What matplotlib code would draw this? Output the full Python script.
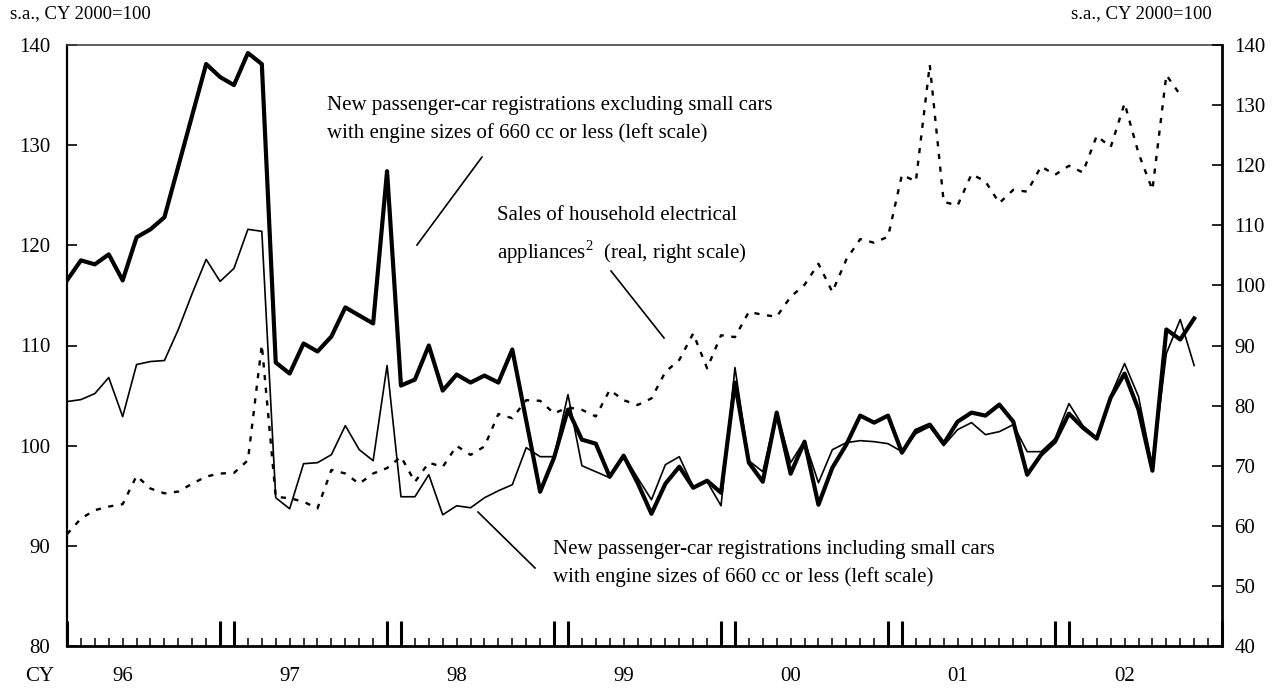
import numpy as np
import matplotlib
matplotlib.use('Agg')
import matplotlib.pyplot as plt

plt.rcParams['font.family'] = ['Liberation Serif', 'DejaVu Serif']
plt.rcParams['mathtext.fontset'] = 'custom'
plt.rcParams['mathtext.rm'] = 'Liberation Serif'

# monthly values, Jan 1996 onwards
excl_small = [116.5, 118.5, 118.1, 119.1, 116.5, 120.8, 121.6, 122.8, 127.9, 133.0,
              138.1, 136.8, 136.0, 139.2, 138.1, 108.3, 107.2, 110.2, 109.4, 110.9,
              113.8, 113.0, 112.2, 127.4, 106.0, 106.6, 110.0, 105.5, 107.1, 106.3,
              107.0, 106.3, 109.6, 102.5, 95.4, 98.8, 103.6, 100.6, 100.2, 96.9,
              99.0, 96.3, 93.2, 96.2, 97.9, 95.8, 96.5, 95.3, 106.3, 98.3,
              96.4, 103.3, 97.2, 100.4, 94.1, 97.8, 100.1, 103.0, 102.3, 103.0,
              99.3, 101.5, 102.1, 100.2, 102.4, 103.3, 103.0, 104.1, 102.4, 97.1,
              99.1, 100.4, 103.2, 101.8, 100.7, 104.8, 107.2, 103.6, 97.5, 111.6,
              110.6, 112.7]
incl_small = [104.4, 104.6, 105.2, 106.8, 102.9, 108.1, 108.4, 108.5, 111.6, 115.2,
              118.6, 116.4, 117.7, 121.6, 121.4, 94.8, 93.7, 98.2, 98.3, 99.1,
              102.0, 99.6, 98.5, 108.0, 94.9, 94.9, 97.1, 93.1, 94.0, 93.8,
              94.8, 95.5, 96.1, 99.8, 98.9, 98.9, 105.1, 98.0, 97.4, 96.8,
              99.1, 96.8, 94.6, 98.1, 98.9, 95.9, 96.4, 94.0, 107.8, 98.5,
              97.4, 103.4, 98.3, 100.5, 96.3, 99.6, 100.3, 100.5, 100.4, 100.2,
              99.4, 101.2, 101.9, 100.0, 101.6, 102.3, 101.1, 101.4, 102.1, 99.4,
              99.4, 100.7, 104.2, 102.0, 100.8, 105.0, 108.2, 104.9, 97.9, 109.2,
              112.6, 108.0]
appliances = [58.6, 61.2, 62.6, 63.2, 63.6, 68.3, 66.2, 65.4, 65.7, 67.0,
              68.2, 68.7, 68.8, 70.9, 90.1, 64.8, 64.6, 64.0, 62.9, 69.3,
              68.7, 67.0, 68.7, 69.6, 71.5, 67.3, 70.5, 69.8, 73.3, 71.8,
              73.2, 78.6, 77.9, 80.9, 80.8, 78.7, 79.7, 79.3, 78.2, 82.6,
              80.9, 80.1, 81.2, 85.6, 87.6, 92.0, 86.2, 91.7, 91.4, 95.6,
              95.1, 94.8, 98.1, 100.1, 103.6, 98.9, 104.3, 107.7, 107.1, 108.1,
              118.4, 117.3, 136.7, 113.9, 113.3, 118.5, 117.3, 113.7, 115.9, 115.6,
              119.8, 118.4, 119.9, 118.8, 124.9, 123.0, 130.3, 122.0, 115.9, 135.0,
              131.7]

year_labels = ['96', '97', '98', '99', '00', '01', '02']
year_label_pos = [4, 16, 28, 40, 52, 64, 76]
n_months = 83

fig = plt.figure(figsize=(12.8, 6.89), dpi=100)
ax = fig.add_axes([67/1280, 1 - 646/689, 1155/1280, 601/689])
ax2 = ax.twinx()

ax.plot(np.arange(len(incl_small)), incl_small, color='black', lw=1.2)
ax.plot(np.arange(len(excl_small)), excl_small, color='black', lw=3.0)
ax2.plot(np.arange(len(appliances)), appliances, color='black', lw=1.7,
         linestyle=(0, (2.2, 3.2)))

ax.set_xlim(0, n_months)
ax.set_ylim(80, 140)
ax2.set_ylim(40, 140)
ax.set_yticks(range(80, 141, 10))
ax2.set_yticks(range(40, 141, 10))

# month ticks, double tall ticks around each year end
tall = [0, n_months] + [12 * k - 1 for k in range(1, 7)] + [12 * k for k in range(1, 7)]
ax.set_xticks(sorted(tall))
ax.set_xticks(range(0, n_months + 1), minor=True)
ax.tick_params(axis='x', which='major', direction='in', length=18, width=2.2,
               labelbottom=False)
ax.tick_params(axis='x', which='minor', direction='in', length=6, width=1.1)
ax.tick_params(axis='y', direction='in', length=7, width=1.2, labelsize=15, pad=12)
ax2.tick_params(axis='y', direction='in', length=7, width=1.2, labelsize=15, pad=9)

for lab, pos in zip(year_labels, year_label_pos):
    ax.text(pos, -0.051, lab, transform=ax.get_xaxis_transform(),
            ha='center', va='center', fontsize=15)
ax.text(-1.95, -0.051, 'CY', transform=ax.get_xaxis_transform(),
        ha='center', va='center', fontsize=15)

ax.spines['right'].set_visible(False)
ax.spines['top'].set_linewidth(1.2)
ax.spines['top'].set_color('#444444')
ax.spines['left'].set_linewidth(1.6)
ax.spines['bottom'].set_linewidth(2.0)
for s in ['left', 'top', 'bottom']:
    ax2.spines[s].set_visible(False)
ax2.spines['right'].set_linewidth(2.0)

fig.text(10/1280, 1 - 14/689, 's.a., CY 2000=100', ha='left', va='center', fontsize=13.5)
fig.text(1212/1280, 1 - 14/689, 's.a., CY 2000=100', ha='right', va='center', fontsize=13.5)

# annotations
ax.text(0.225, 0.876, 'New passenger-car registrations excluding small cars\n'
        'with engine sizes of 660 cc or less (left scale)',
        transform=ax.transAxes, ha='left', va='center', fontsize=15, linespacing=1.55)
ax.plot([0.3593, 0.3030], [0.8136, 0.6672], transform=ax.transAxes, color='black', lw=1.2)

ax.text(0.372, 0.682, 'Sales of household electrical\n'
        r'appliances$^{\mathrm{2}}$  (real, right scale)',
        transform=ax.transAxes, ha='left', va='center', fontsize=15, linespacing=1.65)
ax.plot([0.4710, 0.5169], [0.6240, 0.5125], transform=ax.transAxes, color='black', lw=1.2)

ax.text(0.421, 0.137, 'New passenger-car registrations including small cars\n'
        'with engine sizes of 660 cc or less (left scale)',
        transform=ax.transAxes, ha='left', va='center', fontsize=15, linespacing=1.55)
ax.plot([0.3558, 0.4052], [0.2230, 0.1298], transform=ax.transAxes, color='black', lw=1.2)

fig.savefig('out.png', dpi=100)
